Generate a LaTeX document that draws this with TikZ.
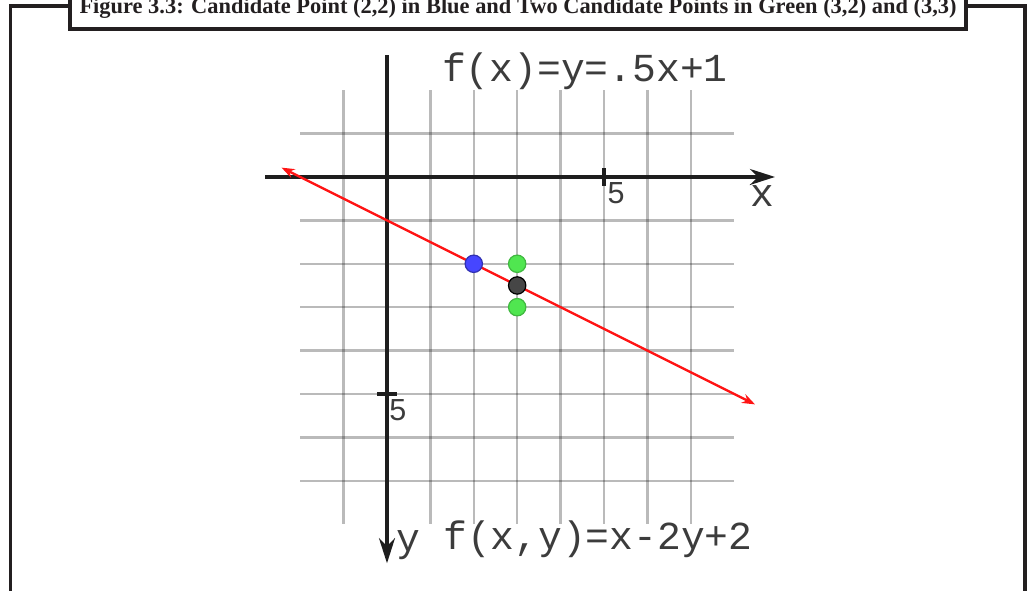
\documentclass[tikz,border=0pt]{standalone}
\usepackage{fontspec}
\setmainfont{Liberation Serif}
\newfontfamily\codefont{Liberation Mono}
\newfontfamily\tickfont{Liberation Sans}
\usetikzlibrary{arrows.meta}
\definecolor{axisline}{RGB}{30, 30, 30}
\definecolor{fline}{RGB}{255, 20, 20}
\definecolor{bluept}{RGB}{70, 70, 255}
\definecolor{greenpt}{RGB}{80, 230, 80}
\definecolor{midpt}{RGB}{70, 70, 70}
\definecolor{framecol}{RGB}{35, 31, 32}
\definecolor{textcol}{RGB}{60, 60, 60}

\begin{document}
\begin{tikzpicture}[x=1cm, y=-1cm,
    codetext/.style={font=\codefont\fontsize{26}{28}\selectfont, text=textcol, inner sep=0pt, anchor=base},
    ticktext/.style={font=\tickfont\fontsize{20}{22}\selectfont, text=textcol, inner sep=0pt, anchor=base},
    gridrule/.style={draw=black, draw opacity=0.27, line width=1.6pt},
    point/.style={line width=0.8pt}]
        \useasboundingbox (-8.917,-4.078) rectangle (14.816,9.539);

        \foreach \x in {-1,...,7} {
            \draw[gridrule] (\x,-2) -- (\x,8);
        }
        \foreach \y in {-1,...,7} {
            \draw[gridrule] (-2,\y) -- (8,\y);
        }

        \coordinate (xstart) at (-2.8,0);
        \coordinate (xend) at (8.94,0);
        \coordinate (ystart) at (0,-2.8);
        \coordinate (yend) at (0,8.9);
        \draw[axisline, line width=2pt, -{Stealth[length=0.58cm, width=0.37cm]}] (xstart) -- (xend);
        \draw[axisline, line width=2pt, -{Stealth[length=0.58cm, width=0.37cm]}] (ystart) -- (yend);
        \draw[axisline, line width=2pt] (5,-0.2) -- (5,0.2);
        \draw[axisline, line width=2pt] (-0.23,5) -- (0.23,5);

        \node[ticktext] (xfive) at (5.28,0.6) {5};
        \node[ticktext] (yfive) at (0.25,5.6) {5};
        \node[codetext] (xname) at (8.66,0.68) {x};
        \node[codetext] (yname) at (0.5,8.62) {y};
        \node[codetext] (fline) at (4.56,-2.2) {f(x)=y=.5x+1};
        \node[codetext] (fxy) at (4.86,8.59) {f(x,y)=x-2y+2};

        \coordinate (lstart) at (-2.43,-0.215);
        \coordinate (lend) at (8.48,5.24);
        \draw[fline, line width=1.6pt, {Stealth[length=0.3cm, width=0.22cm]}-{Stealth[length=0.3cm, width=0.22cm]}] (lstart) -- (lend);

        \filldraw[point, fill=bluept, draw=bluept!70!black] (2,2) circle (0.2);
        \filldraw[point, fill=greenpt, draw=greenpt!80!black] (3,2) circle (0.2);
        \filldraw[point, fill=greenpt, draw=greenpt!80!black] (3,3) circle (0.2);
        \filldraw[point, fill=midpt, draw=black] (3,2.5) circle (0.2);

        \draw[framecol, line width=2.2pt] (-8.67,9.6) -- (-8.67,-3.94) -- (-7.30,-3.94);
        \draw[framecol, line width=2.2pt] (13.34,-3.94) -- (14.70,-3.94) -- (14.70,9.6);
        \draw[framecol, line width=2.2pt] (-7.30,-4.4) rectangle (13.34,-3.41);
        \node[font=\bfseries\fontsize{14.7}{16}\selectfont, text=framecol, inner sep=0pt, anchor=base] (caption) at (3.02,-3.76) {Figure 3.3: Candidate Point (2,2) in Blue and Two Candidate Points in Green (3,2) and (3,3)};

    \end{tikzpicture}
\end{document}
